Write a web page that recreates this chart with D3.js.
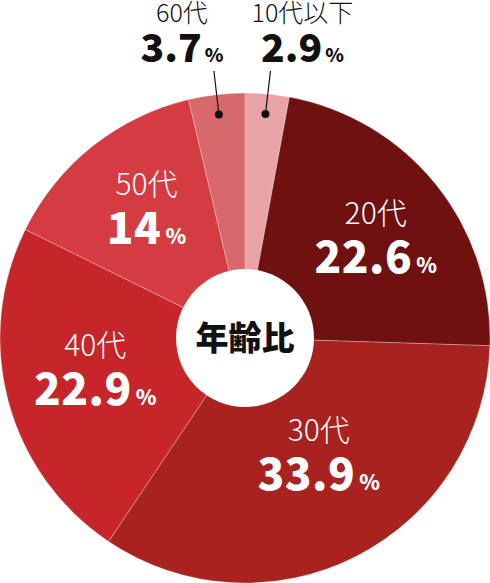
<!DOCTYPE html>
<html>
<head>
<meta charset="utf-8">
<script src="https://cdn.jsdelivr.net/npm/d3@7"></script>
<style>
  html, body { margin: 0; padding: 0; background: #fff; }
  svg { display: block; }
</style>
</head>
<body>
<svg id="chart"></svg>
<script>
var width = 490;
var height = 583;

// data (clockwise from 12 o'clock)
var ageGroups = ["10代以下", "20代", "30代", "40代", "50代", "60代"];
var shares = [2.9, 22.6, 33.9, 22.9, 14, 3.7];
var sliceColors = ["#e9a2a5", "#6f1011", "#a82220", "#c62629", "#d43c41", "#d7686b"];
var centerTitle = "年齢比";

// which groups get their label outside, above the pie
var outsideGroups = ["10代以下", "60代"];

var data = ageGroups.map(function(g, i) {
    return { group: g, value: shares[i], color: sliceColors[i] };
});

var cx = 245, cy = 338;
var radius = 245;
var holeRadius = 69;

var svg = d3.select("#chart")
    .attr("width", width)
    .attr("height", height);

var g = svg.append("g")
    .attr("transform", `translate(${cx},${cy})`);

var pie = d3.pie()
    .sort(null)
    .value(d => d.value);

var arcs = pie(data);

var arc = d3.arc()
    .innerRadius(0)
    .outerRadius(radius);

// slices
g.selectAll("path.slice")
    .data(arcs)
    .join("path")
    .attr("class", "slice")
    .attr("d", arc)
    .attr("fill", d => d.data.color)
    .attr("stroke", "rgba(255,255,255,0.35)")
    .attr("stroke-width", 0.8);

// white hole with title
g.append("circle")
    .attr("r", holeRadius)
    .attr("fill", "#fff");

g.append("text")
    .attr("text-anchor", "middle")
    .attr("dy", "0.36em")
    .style("font-family", "'Noto Sans CJK JP', sans-serif")
    .style("font-weight", 900)
    .style("font-size", "33px")
    .style("fill", "#111")
    .text(centerTitle);

// labels inside the slices
var labelArc = d3.arc().innerRadius(155).outerRadius(155);
// small nudges so the text sits where the original has it
var nudge = { "20代": [10, 8], "30代": [3, -10], "40代": [0, 3], "50代": [-2, 3] };

var inside = g.append("g")
    .selectAll("g")
    .data(arcs.filter(d => outsideGroups.indexOf(d.data.group) < 0))
    .join("g")
    .attr("transform", function(d) {
        var c = labelArc.centroid(d);
        var n = nudge[d.data.group] || [0, 0];
        return `translate(${c[0] + n[0]},${c[1] + n[1]})`;
    })
    .style("fill", "#fff")
    .attr("text-anchor", "middle");

inside.append("text")
    .attr("y", -25)
    .style("font-family", "'Noto Sans CJK JP', sans-serif")
    .style("font-weight", 300)
    .style("font-size", "30px")
    .text(d => d.data.group);

var val = inside.append("text")
    .attr("y", 24)
    .style("font-family", "'Noto Sans CJK JP', sans-serif")
    .style("font-weight", 900);
val.append("tspan")
    .style("font-size", "44px")
    .style("letter-spacing", "0.5px")
    .text(d => d.data.value);
val.append("tspan")
    .attr("dx", 4)
    .style("font-size", "21px")
    .text("%");

// labels outside, with leader lines
var dotArc = d3.arc().innerRadius(225).outerRadius(225);

var outside = g.append("g")
    .selectAll("g")
    .data(arcs.filter(d => outsideGroups.indexOf(d.data.group) >= 0))
    .join("g");

outside.each(function(d) {
    var sel = d3.select(this);
    var p = dotArc.centroid(d);
    var side = p[0] < 0 ? -1 : 1;
    var topY = 71 - cy;

    sel.append("line")
        .attr("x1", p[0])
        .attr("y1", p[1])
        .attr("x2", p[0] + side * 5)
        .attr("y2", topY)
        .attr("stroke", "#111")
        .attr("stroke-width", 1.2);

    sel.append("circle")
        .attr("cx", p[0])
        .attr("cy", p[1])
        .attr("r", 4)
        .attr("fill", "#111");

    var lx = p[0] + side * 37;

    sel.append("text")
        .attr("x", lx)
        .attr("y", 22 - cy)
        .attr("text-anchor", "middle")
        .style("font-family", "'Noto Sans CJK JP', sans-serif")
        .style("font-weight", 300)
        .style("font-size", "25px")
        .style("fill", "#111")
        .text(d.data.group);

    var t = sel.append("text")
        .attr("x", lx)
        .attr("y", 62 - cy)
        .attr("text-anchor", "middle")
        .style("font-family", "'Noto Sans CJK JP', sans-serif")
        .style("font-weight", 900)
        .style("fill", "#111");
    t.append("tspan")
        .style("font-size", "39px")
        .text(d.data.value);
    t.append("tspan")
        .attr("dx", 3)
        .style("font-size", "19px")
        .text("%");
});
</script>
</body>
</html>
